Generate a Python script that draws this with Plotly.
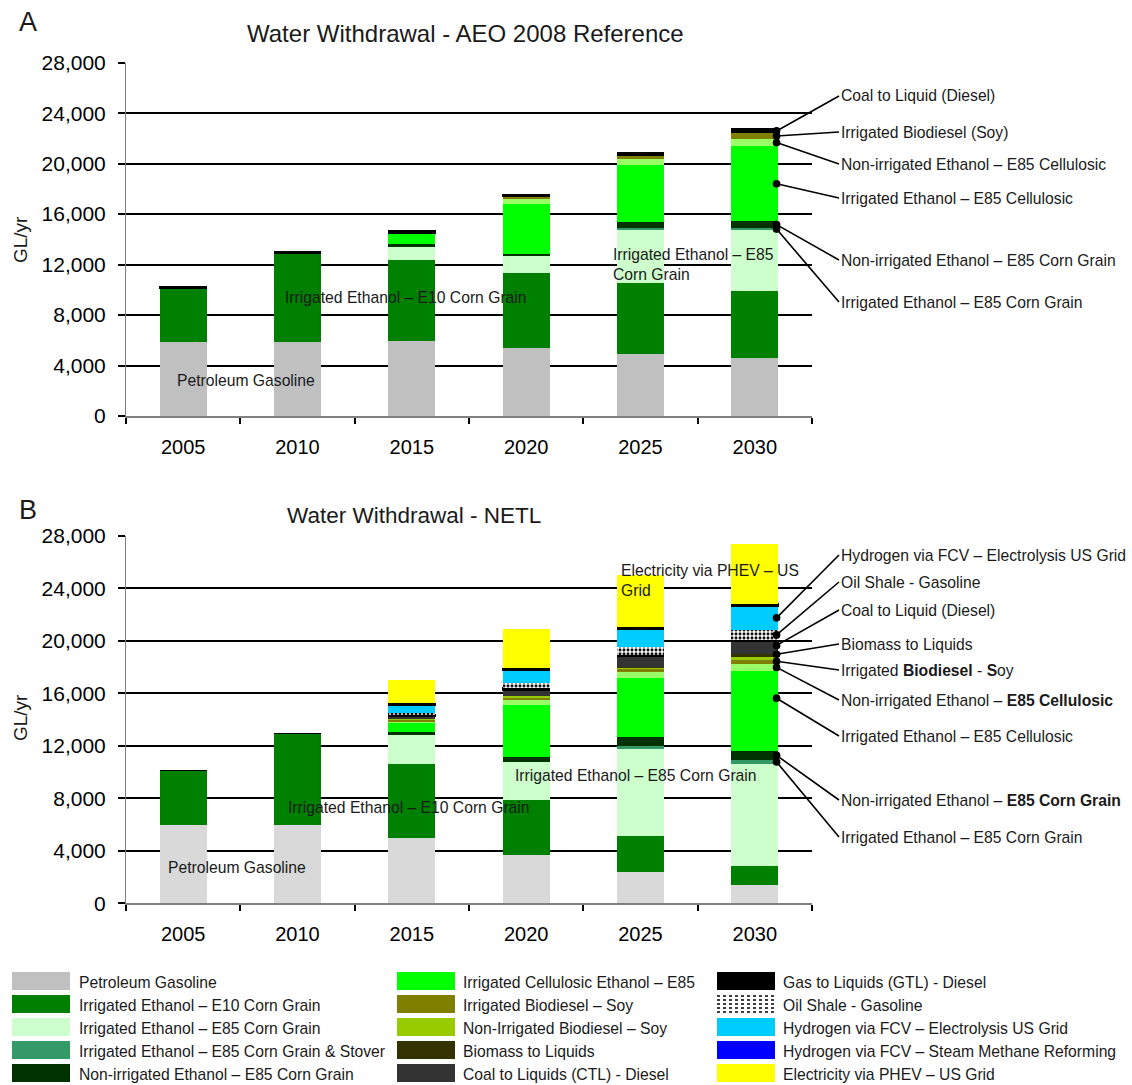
import plotly.graph_objects as go

# ---------------- data ----------------
years = ["2005", "2010", "2015", "2020", "2025", "2030"]

# Panel A - AEO 2008 Reference (GL/yr)
gasoline_a = [5900, 5900, 5930, 5350, 4900, 4590]
e10_a = [4200, 6950, 6430, 5980, 5620, 5300]
e85_corn_a = [0, 0, 1060, 1350, 4260, 4820]
e85_stover_a = [0, 0, 0, 0, 130, 210]
nonirr_corn_a = [0, 0, 190, 160, 500, 500]
irr_cell_a = [0, 0, 870, 3970, 4500, 5970]
nonirr_cell_a = [0, 0, 0, 400, 480, 560]
irr_biodiesel_a = [0, 0, 0, 185, 240, 480]
ctl_a = [180, 160, 210, 130, 230, 320]

# Panel B - NETL (GL/yr)
gasoline_b = [5950, 5950, 4950, 3650, 2400, 1400]
e10_b = [4200, 6950, 5700, 4230, 2710, 1450]
e85_corn_b = [0, 0, 2170, 2880, 6730, 7800]
e85_stover_b = [0, 0, 0, 0, 150, 250]
nonirr_corn_b = [0, 0, 200, 355, 660, 740]
irr_cell_b = [0, 0, 760, 4025, 4520, 6040]
nonirr_cell_b = [0, 0, 80, 380, 460, 585]
irr_biodiesel_b = [0, 0, 125, 150, 250, 355]
nonirr_biodiesel_b = [0, 0, 125, 100, 80, 127]
btl_b = [0, 0, 0, 0, 80, 280]
ctl_b = [0, 0, 150, 430, 760, 890]
gtl_b = [0, 0, 125, 230, 100, 127]
oil_shale_b = [0, 0, 100, 355, 610, 813]
h2_elec_b = [0, 0, 585, 940, 1320, 1780]
h2_smr_b = [0, 0, 175, 200, 200, 200]
phev_b = [0, 0, 1800, 3000, 3960, 4540]

y_ticks = [0, 4000, 8000, 12000, 16000, 20000, 24000, 28000]

legend_names = [
    ["Petroleum Gasoline", "Irrigated Ethanol – E10 Corn Grain", "Irrigated Ethanol – E85 Corn Grain",
     "Irrigated Ethanol – E85 Corn Grain & Stover", "Non-irrigated Ethanol – E85 Corn Grain"],
    ["Irrigated Cellulosic Ethanol – E85", "Irrigated Biodiesel – Soy", "Non-Irrigated Biodiesel – Soy",
     "Biomass to Liquids", "Coal to Liquids (CTL) - Diesel"],
    ["Gas to Liquids (GTL) - Diesel", "Oil Shale - Gasoline", "Hydrogen via FCV – Electrolysis US Grid",
     "Hydrogen via FCV – Steam Methane Reforming", "Electricity via PHEV – US Grid"],
]

# ---------------- styles ----------------
W, H = 1132, 1085
FONT = "Liberation Sans, Arial, sans-serif"
TXT = "#1a1a1a"
FS = 15.7

C = {
    "gas_a": "#C0C0C0", "gas_b": "#D9D9D9", "e10": "#008000", "e85": "#CCFFCC", "stover": "#339966",
    "nonirr_corn": "#003300", "irr_cell": "#00FF00", "nonirr_cell": "#99FF66", "irr_bio": "#808000",
    "nonirr_bio": "#99CC00", "btl": "#333300", "ctl": "#333333", "gtl": "#000000",
    "h2e": "#00CCFF", "h2s": "#0000FF", "phev": "#FFFF00",
}
legend_colors = [
    [C["gas_a"], C["e10"], C["e85"], C["stover"], C["nonirr_corn"]],
    [C["irr_cell"], C["irr_bio"], C["nonirr_bio"], C["btl"], C["ctl"]],
    [C["gtl"], None, C["h2e"], C["h2s"], C["phev"]],
]

def px_x(x):
    return x / W

def px_y(y):
    return 1 - y / H

XD = [126 / W, 812 / W]
A_TOP, A_BOT = 62.7, 416.0
B_TOP, B_BOT = 535.8, 903.3
YA = [px_y(A_BOT), px_y(A_TOP)]
YB = [px_y(B_BOT), px_y(B_TOP)]

series_a = [
    ("Petroleum Gasoline", gasoline_a, C["gas_a"], None),
    ("Irrigated Ethanol – E10 Corn Grain", e10_a, C["e10"], None),
    ("Irrigated Ethanol – E85 Corn Grain", e85_corn_a, C["e85"], None),
    ("Irrigated Ethanol – E85 Corn Grain & Stover", e85_stover_a, C["stover"], None),
    ("Non-irrigated Ethanol – E85 Corn Grain", nonirr_corn_a, C["nonirr_corn"], None),
    ("Irrigated Cellulosic Ethanol – E85", irr_cell_a, C["irr_cell"], None),
    ("Non-irrigated Cellulosic Ethanol – E85", nonirr_cell_a, C["nonirr_cell"], None),
    ("Irrigated Biodiesel – Soy", irr_biodiesel_a, C["irr_bio"], None),
    ("Coal to Liquids (CTL) - Diesel", ctl_a, "#000000", 1),
]
series_b = [
    ("Petroleum Gasoline", gasoline_b, C["gas_b"], None),
    ("Irrigated Ethanol – E10 Corn Grain", e10_b, C["e10"], None),
    ("Irrigated Ethanol – E85 Corn Grain", e85_corn_b, C["e85"], None),
    ("Irrigated Ethanol – E85 Corn Grain & Stover", e85_stover_b, C["stover"], None),
    ("Non-irrigated Ethanol – E85 Corn Grain", nonirr_corn_b, C["nonirr_corn"], None),
    ("Irrigated Cellulosic Ethanol – E85", irr_cell_b, C["irr_cell"], None),
    ("Non-irrigated Cellulosic Ethanol – E85", nonirr_cell_b, C["nonirr_cell"], None),
    ("Irrigated Biodiesel – Soy", irr_biodiesel_b, C["irr_bio"], None),
    ("Non-Irrigated Biodiesel – Soy", nonirr_biodiesel_b, C["nonirr_bio"], None),
    ("Biomass to Liquids", btl_b, C["btl"], None),
    ("Coal to Liquids (CTL) - Diesel", ctl_b, C["ctl"], None),
    ("Gas to Liquids (GTL) - Diesel", gtl_b, C["gtl"], 1),
    ("Oil Shale - Gasoline", oil_shale_b, "shale", None),
    ("Hydrogen via FCV – Electrolysis US Grid", h2_elec_b, C["h2e"], None),
    ("Hydrogen via FCV – Steam Methane Reforming", h2_smr_b, "#000000", 1),
    ("Electricity via PHEV – US Grid", phev_b, C["phev"], None),
]

fig = go.Figure()

def add_series(series, xa, ya):
    for name, vals, color, lw in series:
        if color == "shale":
            marker = dict(color="white",
                          pattern=dict(shape=".", fgcolor="#000000", bgcolor="#ffffff", size=4, solidity=0.45),
                          line=dict(width=0))
        else:
            marker = dict(color=color, line=dict(width=lw or 0, color="#000000"))
        fig.add_trace(go.Bar(x=years, y=vals, name=name, marker=marker, xaxis=xa, yaxis=ya,
                             showlegend=False))

add_series(series_a, "x", "y")
add_series(series_b, "x2", "y2")

xcommon = dict(type="category", range=[-0.5, 5.5], showline=True, linecolor="#808080", linewidth=2,
               ticks="outside", tickson="boundaries", ticklen=6, tickwidth=1.5, tickcolor="#000000",
               tickfont=dict(size=20, family=FONT, color="#000000"), showgrid=False, zeroline=False,
               ticklabelstandoff=12, automargin=False)
ycommon = dict(range=[0, 28000], tickvals=y_ticks, tickformat=",d", showgrid=True, gridcolor="#000000",
               gridwidth=2, showline=True, linecolor="#808080", linewidth=1, ticks="outside", ticklen=7,
               tickwidth=2, tickcolor="#000000", tickfont=dict(size=21, family=FONT, color="#000000"),
               zeroline=False, ticklabelstandoff=8, automargin=False)

fig.update_layout(
    template="none",
    width=W, height=H, autosize=False,
    margin=dict(l=0, r=0, t=0, b=0, pad=0, autoexpand=False),
    paper_bgcolor="white", plot_bgcolor="white",
    barmode="stack", bargap=0.59,
    font=dict(family=FONT, color=TXT),
    xaxis=dict(domain=XD, anchor="y", **xcommon),
    yaxis=dict(domain=YA, anchor="x", **ycommon),
    xaxis2=dict(domain=XD, anchor="y2", **xcommon),
    yaxis2=dict(domain=YB, anchor="x2", **ycommon),
)

ann = []
def text(x, y, s, size=FS, xanchor="left", yanchor="middle", angle=0):
    ann.append(dict(x=px_x(x), y=px_y(y), xref="paper", yref="paper", text=s, showarrow=False,
                    xanchor=xanchor, yanchor=yanchor, textangle=angle, align="left",
                    font=dict(size=size, family=FONT, color=TXT)))

# panel letters and titles
text(17, 22, "A", size=27)
text(17, 510, "B", size=27)
text(465, 33, "Water Withdrawal - AEO 2008 Reference", size=24, xanchor="center")
text(414, 515, "Water Withdrawal - NETL", size=22.5, xanchor="center")
text(20, 240, "GL/yr", size=19, xanchor="center", angle=-90)
text(20, 718, "GL/yr", size=19, xanchor="center", angle=-90)

# in-chart labels
text(175, 380, "Petroleum Gasoline")
text(283, 297, "Irrigated Ethanol – E10 Corn Grain")
text(611, 264, "Irrigated Ethanol – E85<br>Corn Grain")
text(166, 867, "Petroleum Gasoline")
text(286, 807, "Irrigated Ethanol – E10 Corn Grain")
text(513, 775, "Irrigated Ethanol – E85 Corn Grain")
text(619, 580, "Electricity via PHEV – US<br>Grid")

# callouts on the 2030 bars
cw = (812 - 126) / 6.0
def tail_x(px):
    return (px - 126) / cw - 0.5

def callouts(series, names_frac_y, xref, yref, top, bot):
    scale = 28000 / (bot - top)
    idx = 5
    cum = {}
    base = 0
    for name, vals, _, _ in series:
        cum[name] = (base, vals[idx])
        base += vals[idx]
    for label, key, frac, ly in names_frac_y:
        b, v = cum[key]
        ann.append(dict(x=5.19, y=b + v * frac, xref=xref, yref=yref,
                        ax=tail_x(839), ay=(bot - ly) * scale, axref=xref, ayref=yref,
                        text=label, showarrow=True, arrowhead=6, arrowsize=1.2, arrowwidth=1.6,
                        arrowcolor="#000000", xanchor="left", yanchor="middle", standoff=0,
                        font=dict(size=FS, family=FONT, color=TXT)))

callouts(series_a, [
    ("Coal to Liquid (Diesel)", "Coal to Liquids (CTL) - Diesel", 0.5, 96),
    ("Irrigated Biodiesel (Soy)", "Irrigated Biodiesel – Soy", 0.5, 132),
    ("Non-irrigated Ethanol – E85 Cellulosic", "Non-irrigated Cellulosic Ethanol – E85", 0.5, 164),
    ("Irrigated Ethanol – E85 Cellulosic", "Irrigated Cellulosic Ethanol – E85", 0.5, 198),
    ("Non-irrigated Ethanol – E85 Corn Grain", "Non-irrigated Ethanol – E85 Corn Grain", 0.5, 260),
    ("Irrigated Ethanol – E85 Corn Grain", "Irrigated Ethanol – E85 Corn Grain & Stover", 0.5, 302),
], "x", "y", A_TOP, A_BOT)

callouts(series_b, [
    ("Hydrogen via FCV – Electrolysis US Grid", "Hydrogen via FCV – Electrolysis US Grid", 0.5, 555),
    ("Oil Shale - Gasoline", "Oil Shale - Gasoline", 0.5, 582),
    ("Coal to Liquid (Diesel)", "Coal to Liquids (CTL) - Diesel", 0.7, 610),
    ("Biomass to Liquids", "Biomass to Liquids", 0.8, 644),
    ("Irrigated <b>Biodiesel</b> - <b>S</b>oy", "Irrigated Biodiesel – Soy", 0.5, 670),
    ("Non-irrigated Ethanol – <b>E85 Cellulosic</b>", "Non-irrigated Cellulosic Ethanol – E85", 0.5, 700),
    ("Irrigated Ethanol – E85 Cellulosic", "Irrigated Cellulosic Ethanol – E85", 0.66, 736),
    ("Non-irrigated Ethanol – <b>E85 Corn Grain</b>", "Non-irrigated Ethanol – E85 Corn Grain", 0.5, 800),
    ("Irrigated Ethanol – E85 Corn Grain", "Irrigated Ethanol – E85 Corn Grain & Stover", 0.5, 837),
], "x2", "y2", B_TOP, B_BOT)

# legend (drawn manually to match the large swatches)
shapes = []
col_sw = [(12, 70), (397, 455), (717, 775)]
col_tx = [77, 461, 781]
row_y = [981, 1004, 1027, 1050, 1073]
for ci in range(3):
    for ri in range(5):
        x0, x1 = col_sw[ci]
        yc = row_y[ri]
        col = legend_colors[ci][ri]
        if col is None:
            shapes.append(dict(type="rect", xref="paper", yref="paper", x0=px_x(x0), x1=px_x(x1),
                               y0=px_y(yc + 9), y1=px_y(yc - 9), fillcolor="white", line=dict(width=0)))
            for k in range(5):
                yy = yc - 8 + k * 4
                shapes.append(dict(type="line", xref="paper", yref="paper", x0=px_x(x0), x1=px_x(x1),
                                   y0=px_y(yy), y1=px_y(yy), line=dict(color="#000000", width=1.5, dash="dot")))
        else:
            shapes.append(dict(type="rect", xref="paper", yref="paper", x0=px_x(x0), x1=px_x(x1),
                               y0=px_y(yc + 9), y1=px_y(yc - 9), fillcolor=col, line=dict(width=0)))
        text(col_tx[ci], yc + 1, legend_names[ci][ri])

fig.update_layout(annotations=ann, shapes=shapes)

fig.write_html("out.html", config={"displayModeBar": False},
               post_script="document.body.style.margin='0';")
